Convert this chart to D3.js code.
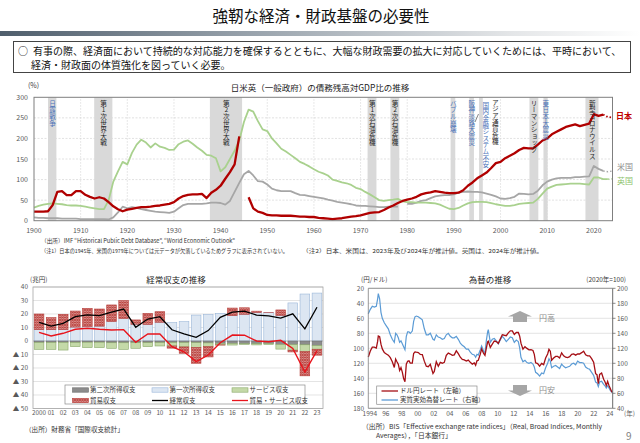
<!DOCTYPE html>
<html><head><meta charset="utf-8">
<script src="https://cdn.jsdelivr.net/npm/d3@7"></script>
<style>
body{margin:0;background:#fff;position:relative;width:640px;height:443px;overflow:hidden}
svg{display:block;position:absolute;left:0;top:0}
text{font-family:"Noto Sans CJK JP","Noto Sans",sans-serif}
.vlab{position:absolute;font-family:"Noto Sans CJK JP",sans-serif;writing-mode:vertical-rl;text-orientation:upright;
  white-space:nowrap;line-height:1;margin:0;padding:0}
</style></head><body>
<svg id="c" width="640" height="443"></svg>
<script>
// ---------------- TEXT ----------------
const pageTitle = "強靭な経済・財政基盤の必要性";
const leadLines = ["有事の際、経済面において持続的な対応能力を確保するとともに、大幅な財政需要の拡大に対応していくためには、平時において、",
                   "経済・財政面の体質強化を図っていく必要。"];

// ---------------- TOP CHART DATA (債務残高対GDP比, %) ----------------
const debtTicksY = [0, 50, 100, 150, 200, 250, 300];
const debtTicksX = [1900, 1910, 1920, 1930, 1940, 1950, 1960, 1970, 1980, 1990, 2000, 2010, 2020];
const jpDebt = [[1900,22],[1901,22],[1902,22],[1903,23],[1904,38],[1905,70],[1906,72],[1907,62],[1908,62],[1909,72],[1910,72],[1911,63],[1912,58],[1913,54],[1914,57],[1915,54],[1916,45],[1917,35],[1918,28],[1919,23],[1920,27],[1921,29],[1922,31],[1923,33],[1924,33],[1925,34],[1926,36],[1927,37],[1928,39],[1929,41],[1930,45],[1931,54],[1932,60],[1933,63],[1934,64],[1935,64],[1936,65],[1937,55],[1938,68],[1939,75],[1940,85],[1941,102],[1942,118],[1943,137],[1944,205],[1945,null],
 [1946,57],[1947,30],[1948,22],[1949,19],[1950,14],[1951,13],[1952,13],[1953,12],[1954,12],[1955,12],[1956,11],[1957,10],[1958,10],[1959,9],[1960,9],[1961,7],[1962,6],[1963,5],[1964,4],[1965,5],[1966,6],[1967,8],[1968,10],[1969,11],[1970,13],[1971,16],[1972,19],[1973,20],[1974,21],[1975,26],[1976,32],[1977,37],[1978,43],[1979,48],[1980,51],[1981,54],[1982,58],[1983,64],[1984,67],[1985,69],[1986,72],[1987,70],[1988,68],[1989,67],[1990,67],[1991,68],[1992,74],[1993,85],[1994,93],[1995,103],[1996,110],[1997,117],[1998,128],[1999,140],[2000,143],[2001,152],[2002,158],[2003,164],[2004,172],[2005,177],[2006,176],[2007,176],[2008,185],[2009,195],[2010,200],[2011,210],[2012,216],[2013,222],[2014,228],[2015,231],[2016,234],[2017,230],[2018,233],[2019,236],[2020,259],[2021,255],[2022,258],[2023,252],[2024,251]];
const usDebt = [[1900,8],[1901,7],[1902,7],[1903,6],[1904,6],[1905,6],[1906,5],[1907,5],[1908,5],[1909,5],[1910,4],[1911,4],[1912,4],[1913,4],[1914,4],[1915,4],[1916,3],[1917,8],[1918,20],[1919,34],[1920,30],[1921,33],[1922,31],[1923,28],[1924,26],[1925,24],[1926,22],[1927,21],[1928,20],[1929,19],[1930,22],[1931,30],[1932,38],[1933,41],[1934,41],[1935,41],[1936,41],[1937,42],[1938,44],[1939,44],[1940,43],[1941,39],[1942,48],[1943,70],[1944,92],[1945,113],[1946,121],[1947,110],[1948,96],[1949,95],[1950,88],[1951,78],[1952,74],[1953,72],[1954,72],[1955,72],[1956,67],[1957,63],[1958,62],[1959,60],[1960,58],[1961,56],[1962,54],[1963,51],[1964,49],[1965,46],[1966,44],[1967,42],[1968,40],[1969,37],[1970,36],[1971,36],[1972,35],[1973,34],[1974,33],[1975,33],[1976,34],[1977,35],[1978,34],[1979,null],
 [1980,41],[1981,41],[1982,44],[1983,48],[1984,50],[1985,55],[1986,59],[1987,61],[1988,62],[1989,62],[1990,64],[1991,68],[1992,70],[1993,71],[1994,70],[1995,70],[1996,69],[1997,66],[1998,63],[1999,59],[2000,54],[2001,53],[2002,55],[2003,58],[2004,66],[2005,65],[2006,64],[2007,65],[2008,73],[2009,86],[2010,95],[2011,100],[2012,103],[2013,104],[2014,104],[2015,104],[2016,106],[2017,106],[2018,107],[2019,108],[2020,133],[2021,126],[2022,121],[2023,119],[2024,121]];
const ukDebt = [[1900,32],[1901,36],[1902,39],[1903,41],[1904,42],[1905,41],[1906,40],[1907,38],[1908,37],[1909,37],[1910,36],[1911,34],[1912,32],[1913,30],[1914,28],[1915,28],[1916,50],[1917,95],[1918,120],[1919,143],[1920,137],[1921,165],[1922,185],[1923,197],[1924,190],[1925,178],[1926,188],[1927,180],[1928,177],[1929,172],[1930,173],[1931,186],[1932,192],[1933,195],[1934,187],[1935,178],[1936,170],[1937,160],[1938,158],[1939,152],[1940,120],[1941,130],[1942,150],[1943,170],[1944,195],[1945,240],[1946,270],[1947,265],[1948,242],[1949,222],[1950,218],[1951,200],[1952,188],[1953,175],[1954,168],[1955,160],[1956,152],[1957,143],[1958,138],[1959,132],[1960,125],[1961,119],[1962,115],[1963,110],[1964,100],[1965,97],[1966,93],[1967,91],[1968,87],[1969,80],[1970,77],[1971,70],[1972,64],[1973,57],[1974,50],[1975,48],[1976,50],[1977,51],[1978,53],[1979,47],[1980,45],[1981,45],[1982,44],[1983,44],[1984,44],[1985,43],[1986,42],[1987,39],[1988,34],[1989,29],[1990,28],[1991,31],[1992,37],[1993,42],[1994,45],[1995,46],[1996,46],[1997,45],[1998,43],[1999,40],[2000,38],[2001,36],[2002,36],[2003,38],[2004,41],[2005,42],[2006,43],[2007,44],[2008,53],[2009,66],[2010,78],[2011,83],[2012,87],[2013,88],[2014,89],[2015,90],[2016,90],[2017,90],[2018,89],[2019,88],[2020,105],[2021,105],[2022,101],[2023,101],[2024,102]];
const lastActual = {jp: 2022, us: 2022, uk: 2023};
const eventNames = ["日露戦争","第1次世界大戦","第2次世界大戦","第1次石油危機","第2次石油危機","バブル崩壊","阪神淡路大震災","国内金融システム不安","リーマンショック","東日本大震災","新型コロナウイルス"];
const eventFrom  = [1903.0, 1912.9, 1937.7, 1971.5, 1976.4, 1989.3, 1993.3, 1995.4, 2006.2, 2009.2, 2018.2];
const eventTo    = [1904.8, 1916.8, 1944.6, 1973.4, 1978.3, 1990.3, 1994.3, 1996.2, 2008.1, 2010.1, 2021.0];
const eventIsDisaster = [true, false, false, false, false, true, true, true, false, true, false];
const extraEventName = "アジア通貨危機";

// ---------------- BOTTOM-LEFT DATA (経常収支, 兆円) ----------------
const caYears = ["2000","01","02","03","04","05","06","07","08","09","10","11","12","13","14","15","16","17","18","19","20","21","22","23"];
const primaryIncome   = [8.4, 8.4, 8.4, 10.3, 10.8, 11.0, 14.4, 16.6, 12.4, 12.3, 13.9, 13.6, 14.3, 19.2, 19.5, 20.5, 18.8, 19.8, 21.2, 21.0, 19.0, 28.2, 34.8, 35.5];
const tradeBalance    = [11.6, 8.9, 11.4, 11.9, 13.4, 12.7, 12.3, 13.3, 3.2, 8.2, 7.8, -1.6, -4.7, -11.7, -7.6, -0.1, 5.6, 4.8, 0.9, 0.1, 4.0, -1.3, -18.0, -4.4];
const servicesBalance = [-5.2, -5.2, -5.7, -3.2, -4.0, -4.0, -4.1, -4.9, -4.2, -3.0, -2.6, -2.6, -3.3, -3.6, -2.8, -1.2, -1.2, -0.5, -0.9, -0.6, -3.5, -4.2, -5.0, -2.8];
const secondaryIncome = [-1.0, -1.0, -1.0, -1.0, -0.9, -0.9, -1.3, -1.3, -1.2, -1.2, -1.1, -1.1, -1.1, -1.2, -1.4, -1.7, -1.8, -2.0, -2.0, -1.9, -2.5, -2.6, -2.8, -3.3];
const currentAccount  = [13.8, 11.1, 13.1, 18.0, 19.3, 18.8, 21.3, 23.7, 10.2, 16.3, 18.0, 8.3, 5.2, 2.7, 7.7, 17.5, 21.4, 22.1, 19.2, 18.6, 17.0, 20.1, 9.0, 25.0];
const tradeServices   = [6.4, 3.7, 5.7, 8.7, 9.4, 8.7, 8.2, 8.4, -1.0, 5.2, 5.2, -4.2, -8.0, -15.3, -10.4, -1.3, 4.4, 4.3, 0.0, -0.5, 0.5, -5.5, -23.0, -7.2];
const caTicks = [40, 30, 20, 10, 0, -10, -20, -30, -40, -50];
const caLegend = ["第二次所得収支","第一次所得収支","サービス収支","貿易収支","経常収支","貿易・サービス収支"];

// ---------------- BOTTOM-RIGHT DATA (為替) ----------------
const fxMonths = ["1994-01","1994-04","1994-07","1994-10","1995-01","1995-03","1995-04","1995-06","1995-08","1995-10","1996-01","1996-04","1996-07","1996-10","1997-01","1997-04","1997-06","1997-08","1997-10","1997-12","1998-02","1998-04","1998-06","1998-08","1998-10","1998-12","1999-02","1999-04","1999-07","1999-09","1999-11","2000-01","2000-04","2000-07","2000-10","2001-01","2001-04","2001-07","2001-10","2002-02","2002-04","2002-07","2002-10","2003-01","2003-04","2003-07","2003-10","2004-01","2004-04","2004-07","2004-10","2005-01","2005-04","2005-07","2005-10","2006-01","2006-04","2006-07","2006-10","2007-01","2007-04","2007-06","2007-08","2007-10","2008-01","2008-03","2008-06","2008-08","2008-10","2008-12","2009-01","2009-04","2009-07","2009-10","2010-01","2010-04","2010-07","2010-10","2011-01","2011-04","2011-07","2011-10","2012-01","2012-04","2012-07","2012-10","2012-12","2013-02","2013-05","2013-08","2013-11","2014-02","2014-05","2014-08","2014-10","2014-12","2015-03","2015-06","2015-09","2015-12","2016-03","2016-06","2016-08","2016-10","2016-12","2017-03","2017-06","2017-09","2017-12","2018-03","2018-06","2018-09","2018-12","2019-03","2019-06","2019-09","2019-12","2020-03","2020-06","2020-09","2020-12","2021-03","2021-06","2021-09","2021-12","2022-03","2022-06","2022-08","2022-10","2022-12","2023-03","2023-06","2023-08","2023-10","2023-12","2024-02","2024-04","2024-06","2024-07"];
const usdjpy = [111.5,103.5,98.5,98.5,99.7,90.8,83.7,84.6,94.5,100.8,105.8,107.5,109.2,112.4,117.9,125.6,114.3,117.9,121.1,129.5,125.8,131.8,140.3,144.7,121.1,117.2,116.7,119.7,119.7,106.9,104.8,105.2,105.6,108.1,108.5,117.1,123.8,124.5,121.5,133.6,130.8,117.9,123.9,118.8,119.9,118.7,109.5,106.3,107.7,109.4,108.8,103.3,107.2,111.9,114.9,115.5,117.1,115.7,118.7,121.1,119.4,122.6,116.7,115.9,107.8,100.8,106.9,109.4,100.2,91.3,90.4,98.8,94.5,90.3,91.1,93.4,87.7,81.9,82.6,83.2,79.4,76.7,76.9,81.4,78.9,78.9,83.6,93.1,101.1,97.8,100.1,102.1,101.8,102.9,108.0,119.4,120.4,123.7,120.2,121.8,112.9,107.6,101.3,103.8,115.9,113.0,110.9,110.8,112.9,106.0,110.0,111.9,112.4,111.2,108.0,107.5,109.1,107.5,107.6,105.8,103.8,108.7,110.1,110.1,113.8,118.5,133.9,135.2,147.0,134.9,133.0,141.2,144.7,149.6,144.0,149.5,153.6,157.9,157.5];
const reer = [166,172,176,175,176,186,193,186,168,160,154,150,146,138,132,128,140,138,134,128,130,126,122,118,136,142,142,140,143,156,162,163,162,160,158,146,138,138,140,132,131,138,135,134,132,133,138,140,136,134,134,136,132,127,124,122,119,119,115,112,111,108,112,111,118,123,116,114,130,142,145,128,132,133,130,126,131,136,133,129,132,135,134,128,131,129,121,108,102,104,101,100,101,99,95,88,86,83,87,86,94,100,106,103,94,96,97,95,93,99,96,94,95,96,99,100,98,103,101,101,100,95,93,92,88,84,75,74,69,75,76,72,70,67,70,67,64,62,61];
const fxTicksL = [20, 40, 60, 80, 100, 120, 140, 160, 180];
const fxTicksR = [200, 180, 160, 140, 120, 100, 80, 60, 40];
const fxTickYears = [1994,1996,1998,2000,2002,2004,2006,2008,2010,2012,2014,2016,2018,2020,2022,2024];
const fxTickLabels = ["1994","96","98","00","02","04","06","08","10","12","14","16","18","20","22","24"];
const fxLegend = ["ドル円レート（左軸）","実質実効為替レート（右軸）"];

// =====================================================
const svg = d3.select("#c");
const defs = svg.append("defs");
svg.append("rect").attr("width",640).attr("height",443).attr("fill","#fff");

// header
const grad = defs.append("linearGradient").attr("id","hbar");
grad.append("stop").attr("offset","0").attr("stop-color","#4f5e6c");
grad.append("stop").attr("offset","0.4").attr("stop-color","#9aa4ad");
grad.append("stop").attr("offset","0.8").attr("stop-color","#e4e6e8");
grad.append("stop").attr("offset","1").attr("stop-color","#ffffff");
svg.append("text").attr("x",321).attr("y",22).attr("text-anchor","middle").attr("font-size",15.5).attr("fill","#111").text(pageTitle);
svg.append("rect").attr("x",0).attr("y",31).attr("width",640).attr("height",5).attr("fill","url(#hbar)");
svg.append("rect").attr("x",13.5).attr("y",41.5).attr("width",617).attr("height",31).attr("fill","none").attr("stroke","#444").attr("stroke-width",1);
svg.append("text").attr("x",18).attr("y",55).attr("font-size",10).attr("fill","#111").text("○");
svg.append("text").attr("x",33).attr("y",55).attr("font-size",10).attr("fill","#111").text(leadLines[0]);
svg.append("text").attr("x",31).attr("y",69).attr("font-size",10).attr("fill","#111").text(leadLines[1]);

// ---------------- TOP CHART ----------------
const g1 = svg.append("g");
const x1 = d3.scaleLinear().domain([1900, 2024]).range([34, 612.5]);
const y1 = d3.scaleLinear().domain([0, 300]).range([220.7, 97.3]);
g1.append("text").attr("x",28).attr("y",88).attr("font-size",7).attr("fill","#404040").text("(%)");
g1.append("text").attr("x",320).attr("y",91).attr("text-anchor","middle").attr("font-size",8.5).attr("fill","#222").text("日米英（一般政府）の債務残高対GDP比の推移");
// grid
g1.selectAll(".hg").data(debtTicksY.filter(v=>v>0&&v<300)).join("line")
  .attr("x1",x1.range()[0]).attr("x2",x1.range()[1]).attr("y1",d=>y1(d)).attr("y2",d=>y1(d))
  .attr("stroke","#d4d4d4").attr("stroke-width",0.7).attr("stroke-dasharray","2,1.5");
g1.selectAll(".vg").data(debtTicksX.filter(v=>v>1900)).join("line")
  .attr("x1",d=>x1(d)).attr("x2",d=>x1(d)).attr("y1",y1(0)).attr("y2",y1(300))
  .attr("stroke","#d4d4d4").attr("stroke-width",0.7).attr("stroke-dasharray","1.5,1.5");
// bands
g1.selectAll(".band").data(eventNames).join("rect")
  .attr("x",(d,i)=>x1(eventFrom[i])).attr("width",(d,i)=>x1(eventTo[i])-x1(eventFrom[i]))
  .attr("y",y1(300)).attr("height",y1(0)-y1(300)).attr("fill","#d9d9d9");
g1.append("line").attr("x1",478.5).attr("y1",114).attr("x2",475).attr("y2",122).attr("stroke","#333").attr("stroke-width",0.6);

// axes labels
g1.selectAll(".yl").data(debtTicksY).join("text")
  .attr("x",28).attr("y",d=>y1(d)+2.5).attr("text-anchor","end").attr("font-size",7).attr("fill","#595959").text(d=>d);
g1.selectAll(".xl").data(debtTicksX).join("text")
  .attr("x",d=>x1(d)).attr("y",233).attr("text-anchor","middle").attr("font-size",7).attr("fill","#595959").text(d=>d);

function drawDebt(data, last, color, w) {
  const line = d3.line().defined(d=>d[1]!=null).x(d=>x1(d[0])).y(d=>y1(d[1]));
  g1.append("path").attr("d",line(data.filter(d=>d[0]<=last))).attr("fill","none").attr("stroke",color).attr("stroke-width",w).attr("stroke-linejoin","round");
  g1.append("path").attr("d",line(data.filter(d=>d[0]>=last))).attr("fill","none").attr("stroke",color).attr("stroke-width",w*0.8).attr("stroke-dasharray","1.5,2");
}
drawDebt(usDebt, lastActual.us, "#a6a6a6", 1.8);
drawDebt(ukDebt, lastActual.uk, "#a9d18e", 1.8);
drawDebt(jpDebt, lastActual.jp, "#b00000", 2.3);
g1.append("rect").attr("x",x1.range()[0]).attr("y",y1(300)).attr("width",x1.range()[1]-x1.range()[0]).attr("height",y1(0)-y1(300))
  .attr("fill","none").attr("stroke","#7f7f7f").attr("stroke-width",1);
g1.append("text").attr("x",616).attr("y",119).attr("font-size",8).attr("font-weight","bold").attr("fill","#c00000").text("日本");
g1.append("text").attr("x",617).attr("y",170).attr("font-size",8).attr("fill","#8c8c8c").text("米国");
g1.append("text").attr("x",617).attr("y",184).attr("font-size",8).attr("fill","#8cc26c").text("英国");
// notes
g1.append("text").attr("x",41).attr("y",243).attr("font-size",5.6).attr("fill","#333").attr("textLength",194).attr("lengthAdjust","spacingAndGlyphs")
  .text("（出所）IMF “Historical Public Debt Database”, “World Economic Outlook”");
g1.append("text").attr("x",41).attr("y",253).attr("font-size",5.4).attr("fill","#333").attr("textLength",247).attr("lengthAdjust","spacingAndGlyphs")
  .text("（注1）日本の1945年、米国の1979年については元データが欠落しているためグラフに表示されていない。");
g1.append("text").attr("x",302).attr("y",253).attr("font-size",5.4).attr("fill","#333").attr("textLength",241).attr("lengthAdjust","spacingAndGlyphs")
  .text("（注2）日本、米国は、2023年及び2024年が推計値。英国は、2024年が推計値。");

// vertical band labels (HTML vertical writing overlay, positioned with the x scale)
const VFS = 6.6;
const labelShift = {"国内金融システム不安": 4.5};
const vlabels = eventNames.map((d,i)=>({name:d, cx:(x1(eventFrom[i])+x1(eventTo[i]))/2 + (labelShift[d]||0),
  top: d==="国内金融システム不安" ? 102 : 99.5, color: eventIsDisaster[i] ? "#4a72b8" : "#262626"}));
const ai = eventNames.indexOf("国内金融システム不安");
vlabels.push({name:extraEventName, cx:(x1(eventFrom[ai])+x1(eventTo[ai]))/2 + 14, top:98.5, color:"#262626"});
d3.select("body").selectAll("div.vlab").data(vlabels).join("div").attr("class","vlab")
  .style("left",d=>(d.cx - VFS/2)+"px").style("top",d=>d.top+"px")
  .style("font-size",VFS+"px").style("width",VFS+"px").style("color",d=>d.color)
  .text(d=>d.name);

// ---------------- BOTTOM-LEFT CHART ----------------
const g2 = svg.append("g");
const hp = defs.append("pattern").attr("id","hatch").attr("patternUnits","userSpaceOnUse").attr("width",2.5).attr("height",2.5);
hp.append("rect").attr("width",2.5).attr("height",2.5).attr("fill","#f3cfcd");
hp.append("path").attr("d","M0,0L2.5,2.5M2.5,0L0,2.5").attr("stroke","#b8403c").attr("stroke-width",1);
const x2 = d3.scaleBand().domain(caYears).range([33, 323]).paddingInner(0.2).paddingOuter(0.1);
const y2 = d3.scaleLinear().domain([-50, 40]).range([408.5, 287]);
g2.append("text").attr("x",30).attr("y",282).attr("font-size",6.5).attr("fill","#404040").text("(兆円)");
g2.append("text").attr("x",176).attr("y",283).attr("text-anchor","middle").attr("font-size",8.5).attr("fill","#222").text("経常収支の推移");
g2.selectAll(".hg").data(caTicks).join("line").attr("x1",33).attr("x2",323).attr("y1",d=>y2(d)).attr("y2",d=>y2(d))
  .attr("stroke",d=>d===0?"#9a9a9a":"#d9d9d9").attr("stroke-width",0.7);
g2.selectAll(".yl").data(caTicks).join("text").attr("x",28).attr("y",d=>y2(d)+2.3).attr("text-anchor","end")
  .attr("font-size",6.5).attr("fill","#595959").text(d=>d<0?"▲ "+(-d):d);
const segs = [];
caYears.forEach((yr,i)=>{
  segs.push({yr, y0:0, y1:primaryIncome[i], kind:"p"});
  let pos = primaryIncome[i], neg = 0;
  segs.push({yr, y0:0, y1:secondaryIncome[i], kind:"s"}); neg = secondaryIncome[i];
  segs.push({yr, y0:neg, y1:neg+servicesBalance[i], kind:"v"}); neg += servicesBalance[i];
  if (tradeBalance[i] >= 0) segs.push({yr, y0:pos, y1:pos+tradeBalance[i], kind:"t"});
  else segs.push({yr, y0:neg, y1:neg+tradeBalance[i], kind:"t"});
});
const fills = {p:"#dce6f2", s:"#8c8c8c", v:"#c4d9a8", t:"url(#hatch)"};
const strokes = {p:"#9bb7d9", s:"#6b6b6b", v:"#8aa86a", t:"#b8403c"};
g2.selectAll(".bar").data(segs).join("rect")
  .attr("x",d=>x2(d.yr)).attr("width",x2.bandwidth())
  .attr("y",d=>y2(Math.max(d.y0,d.y1))).attr("height",d=>Math.abs(y2(d.y0)-y2(d.y1)))
  .attr("fill",d=>fills[d.kind]).attr("stroke",d=>strokes[d.kind]).attr("stroke-width",0.6);
const cx2 = d=>x2(d)+x2.bandwidth()/2;
g2.append("path").attr("d",d3.line().x((d,i)=>cx2(caYears[i])).y(d=>y2(d))(tradeServices)).attr("fill","none").attr("stroke","#e8141c").attr("stroke-width",1.4);
g2.append("path").attr("d",d3.line().x((d,i)=>cx2(caYears[i])).y(d=>y2(d))(currentAccount)).attr("fill","none").attr("stroke","#000").attr("stroke-width",1.3);
g2.append("rect").attr("x",33).attr("y",287).attr("width",290).attr("height",121.5).attr("fill","none").attr("stroke","#a6a6a6").attr("stroke-width",0.8);
g2.selectAll(".xl").data(caYears).join("text").attr("x",d=>cx2(d)).attr("y",415).attr("text-anchor","middle")
  .attr("font-size",6.3).attr("fill","#595959").text(d=>d);
// legend
g2.append("rect").attr("x",65).attr("y",385).attr("width",240).attr("height",19).attr("fill","#fff").attr("stroke","#8c8c8c").attr("stroke-width",0.7);
const lgX = [72.5, 152, 232, 72.5, 152, 232], lgY = [390, 390, 390, 400.5, 400.5, 400.5];
caLegend.forEach((name,i)=>{
  if (i<4) {
    const k = ["s","p","v","t"][i];
    g2.append("rect").attr("x",lgX[i]).attr("y",lgY[i]-2.2).attr("width",16).attr("height",4.4).attr("fill",fills[k]).attr("stroke",strokes[k]).attr("stroke-width",0.6);
  } else {
    g2.append("line").attr("x1",lgX[i]).attr("x2",lgX[i]+16).attr("y1",lgY[i]).attr("y2",lgY[i]).attr("stroke",i===4?"#000":"#e8141c").attr("stroke-width",1.3);
  }
  g2.append("text").attr("x",lgX[i]+17.5).attr("y",lgY[i]+2.4).attr("font-size",6.5).attr("fill","#333").text(name);
});
g2.append("text").attr("x",25).attr("y",432).attr("font-size",6.6).attr("fill","#333").text("（出所）財務省「国際収支統計」");

// ---------------- BOTTOM-RIGHT CHART ----------------
const g3 = svg.append("g");
const toYear = s => +s.slice(0,4) + (+s.slice(5,7)-1)/12;
const x3 = d3.scaleLinear().domain([1994, 2024.55]).range([368.3, 612.7]);
const y3L = d3.scaleLinear().domain([20, 180]).range([288.3, 408.3]);
const y3R = d3.scaleLinear().domain([200, 40]).range([288.3, 408.3]);
g3.append("text").attr("x",361).attr("y",282).attr("font-size",6.5).attr("fill","#404040").text("(円/ドル)");
g3.append("text").attr("x",490).attr("y",283).attr("text-anchor","middle").attr("font-size",8.5).attr("fill","#222").text("為替の推移");
g3.append("text").attr("x",626).attr("y",282).attr("text-anchor","end").attr("font-size",6.5).attr("fill","#404040").text("(2020年=100)");
g3.selectAll(".hg").data(fxTicksL).join("line").attr("x1",368.3).attr("x2",612.7).attr("y1",d=>y3L(d)).attr("y2",d=>y3L(d))
  .attr("stroke","#d9d9d9").attr("stroke-width",0.7);
g3.selectAll(".yl").data(fxTicksL).join("text").attr("x",364).attr("y",d=>y3L(d)+2.3).attr("text-anchor","end")
  .attr("font-size",6.5).attr("fill","#595959").text(d=>d);
g3.selectAll(".yr").data(fxTicksR).join("text").attr("x",617).attr("y",d=>y3R(d)+2.3)
  .attr("font-size",6.5).attr("fill","#595959").text(d=>d);
g3.selectAll(".yt").data(fxTicksR).join("line").attr("x1",612.7).attr("x2",615.5).attr("y1",d=>y3R(d)).attr("y2",d=>y3R(d)).attr("stroke","#595959").attr("stroke-width",0.7);
g3.selectAll(".xl").data(fxTickYears).join("text").attr("x",d=>x3(d)+1.5).attr("y",416).attr("text-anchor","middle")
  .attr("font-size",6.5).attr("fill","#595959").text((d,i)=>fxTickLabels[i]);
g3.append("text").attr("x",624).attr("y",416).attr("font-size",6.5).attr("fill","#595959").text("(年)");
// arrows
const arrowUp = "M520,311 L532,316.5 L527,316.5 L527,322 L513,322 L513,316.5 L508,316.5 Z";
const arrowDn = "M520,396 L532,390.5 L527,390.5 L527,385 L513,385 L513,390.5 L508,390.5 Z";
g3.append("path").attr("d",arrowUp).attr("fill","#a6a6a6");
g3.append("path").attr("d",arrowDn).attr("fill","#a6a6a6");
g3.append("text").attr("x",539).attr("y",320.5).attr("font-size",8).attr("fill","#8c8c8c").text("円高");
g3.append("text").attr("x",539).attr("y",393).attr("font-size",8).attr("fill","#8c8c8c").text("円安");
// lines
const fxX = fxMonths.map(toYear);
g3.append("path").attr("d",d3.line().x((d,i)=>x3(fxX[i])).y(d=>y3R(d))(reer)).attr("fill","none").attr("stroke","#5b9bd5").attr("stroke-width",1.2);
g3.append("path").attr("d",d3.line().x((d,i)=>x3(fxX[i])).y(d=>y3L(d))(usdjpy)).attr("fill","none").attr("stroke","#a50f15").attr("stroke-width",1.3);
g3.append("line").attr("x1",368.3).attr("x2",368.3).attr("y1",288.3).attr("y2",408.3).attr("stroke","#7f7f7f").attr("stroke-width",0.8);
g3.append("line").attr("x1",612.7).attr("x2",612.7).attr("y1",288.3).attr("y2",408.3).attr("stroke","#595959").attr("stroke-width",0.9);
g3.append("line").attr("x1",368.3).attr("x2",612.7).attr("y1",408.3).attr("y2",408.3).attr("stroke","#7f7f7f").attr("stroke-width",0.8);
g3.append("line").attr("x1",368.3).attr("x2",612.7).attr("y1",288.3).attr("y2",288.3).attr("stroke","#7f7f7f").attr("stroke-width",0.8);
// legend
g3.append("rect").attr("x",376.7).attr("y",386).attr("width",100.3).attr("height",18.3).attr("fill","#fff").attr("stroke","#8c8c8c").attr("stroke-width",0.7);
g3.append("line").attr("x1",381.5).attr("x2",398).attr("y1",391).attr("y2",391).attr("stroke","#a50f15").attr("stroke-width",1.3);
g3.append("line").attr("x1",381.5).attr("x2",398).attr("y1",400).attr("y2",400).attr("stroke","#5b9bd5").attr("stroke-width",1.3);
g3.append("text").attr("x",400).attr("y",393.3).attr("font-size",6.5).attr("fill","#333").text(fxLegend[0]);
g3.append("text").attr("x",400).attr("y",402.3).attr("font-size",6.5).attr("fill","#333").text(fxLegend[1]);
g3.append("text").attr("x",362).attr("y",429).attr("font-size",6.8).attr("fill","#333").attr("textLength",240).attr("lengthAdjust","spacingAndGlyphs")
  .text("（出所）BIS「Effective exchange rate indices」（Real, Broad Indices, Monthly");
g3.append("text").attr("x",376).attr("y",438).attr("font-size",6.8).attr("fill","#333").text("Averages），「日本銀行」");
svg.append("text").attr("x",626).attr("y",440).attr("font-size",10).attr("fill","#7f7f7f").text("9");
</script></body></html>
